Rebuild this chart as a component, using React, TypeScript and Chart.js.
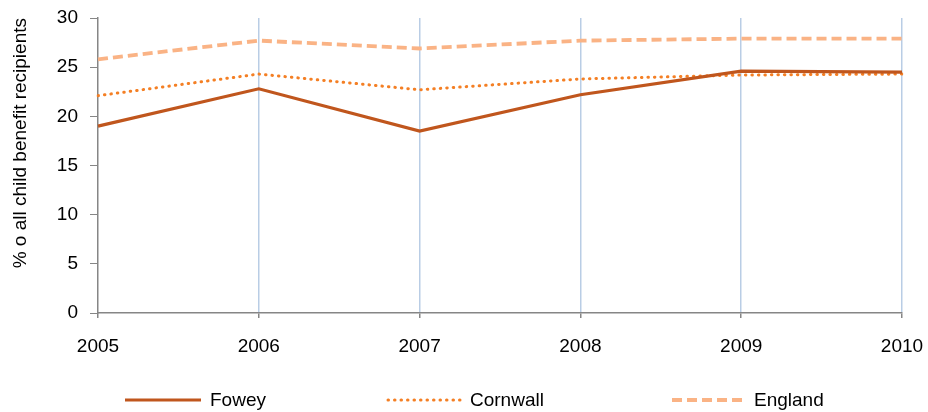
import React, { useEffect, useRef } from "react";
import { Chart, registerables } from "chart.js";

Chart.register(...registerables);

const YEARS = ["2005", "2006", "2007", "2008", "2009", "2010"];
const FOWEY = [19.0, 22.8, 18.5, 22.2, 24.6, 24.5];
const CORNWALL = [22.1, 24.3, 22.7, 23.8, 24.2, 24.3];
const ENGLAND = [25.8, 27.7, 26.9, 27.7, 27.9, 27.9];
const Y_TITLE = "% o all child benefit recipients";

const FONT = "'Liberation Sans', Arial, sans-serif";

// legend layout (style only)
const LEGEND_Y = 400;
const LEGEND_ITEMS = [
  { x0: 125, x1: 201, tx: 210 },
  { x0: 388, x1: 462, tx: 470 },
  { x0: 672, x1: 745, tx: 754 },
];

const customLegend = {
  id: "customLegend",
  afterDraw(chart: any) {
    const ctx = chart.ctx;
    chart.data.datasets.forEach((ds: any, i: number) => {
      const L = LEGEND_ITEMS[i];
      ctx.save();
      ctx.beginPath();
      ctx.strokeStyle = ds.borderColor;
      ctx.lineWidth = ds.borderWidth;
      ctx.lineCap = ds.borderCapStyle || "butt";
      ctx.setLineDash(ds.borderDash || []);
      ctx.moveTo(L.x0, LEGEND_Y);
      ctx.lineTo(L.x1, LEGEND_Y);
      ctx.stroke();
      ctx.setLineDash([]);
      ctx.fillStyle = "#000";
      ctx.font = `19px ${FONT}`;
      ctx.textBaseline = "middle";
      ctx.textAlign = "left";
      ctx.fillText(ds.label, L.tx, LEGEND_Y + 1);
      ctx.restore();
    });
  },
};

export default function App() {
  const ref = useRef<HTMLCanvasElement | null>(null);
  useEffect(() => {
    if (!ref.current) return;
    const chart = new Chart(ref.current, {
      type: "line",
      data: {
        labels: YEARS,
        datasets: [
          {
            label: "Fowey",
            data: FOWEY,
            borderColor: "#c0561d",
            backgroundColor: "#c0561d",
            borderWidth: 3.2,
            pointRadius: 0,
            tension: 0,
          },
          {
            label: "Cornwall",
            data: CORNWALL,
            borderColor: "#f47f24",
            backgroundColor: "#f47f24",
            borderWidth: 3,
            borderDash: [0.5, 6],
            borderCapStyle: "round",
            pointRadius: 0,
            tension: 0,
          },
          {
            label: "England",
            data: ENGLAND,
            borderColor: "#fab385",
            backgroundColor: "#fab385",
            borderWidth: 3.8,
            borderDash: [10, 5],
            pointRadius: 0,
            tension: 0,
          },
        ],
      },
      options: {
        responsive: false,
        animation: false,
        layout: { padding: { left: 0, top: 18, right: 26, bottom: 0 } },
        plugins: {
          legend: { display: false },
          tooltip: { enabled: false },
        },
        scales: {
          x: {
            type: "category",
            offset: false,
            grid: {
              display: true,
              drawOnChartArea: true,
              drawTicks: true,
              tickLength: 5,
              color: (c: any) => (c.index === 0 ? "rgba(0,0,0,0)" : "#b9cde5"),
              tickColor: "#868686",
              lineWidth: 1.5,
            },
            border: { display: true, color: "#868686", width: 1.5 },
            ticks: {
              color: "#000",
              font: { family: FONT, size: 19 },
              padding: 17,
              maxRotation: 0,
              autoSkip: false,
            },
            afterFit: (s: any) => {
              s.height = 99;
              s.paddingLeft = 0;
              s.paddingRight = 0;
            },
          },
          y: {
            min: 0,
            max: 30,
            grid: {
              display: true,
              drawOnChartArea: false,
              drawTicks: true,
              tickLength: 8,
              tickColor: "#868686",
            },
            border: { display: true, color: "#868686", width: 1.5 },
            ticks: {
              stepSize: 5,
              color: "#000",
              font: { family: FONT, size: 19 },
              padding: 12,
            },
            title: {
              display: true,
              text: Y_TITLE,
              align: "end",
              color: "#000",
              font: { family: FONT, size: 19 },
              padding: { top: 9, bottom: 0 },
            },
            afterFit: (s: any) => {
              s.width = 98;
              s.paddingTop = 0;
              s.paddingBottom = 0;
            },
          },
        },
      },
      plugins: [customLegend],
    });
    return () => chart.destroy();
  }, []);
  return (
    <div style={{ position: "fixed", left: 0, top: 0, width: 928, height: 412, background: "#fff" }}>
      <canvas ref={ref} width={928} height={412} style={{ display: "block" }} />
    </div>
  );
}
